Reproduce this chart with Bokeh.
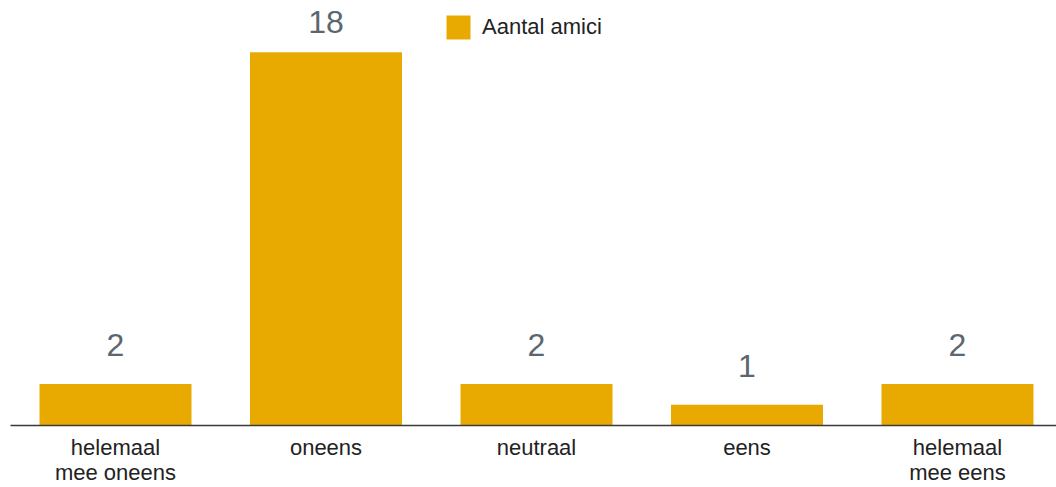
import numpy as np
from bokeh.plotting import figure
from bokeh.models import ColumnDataSource, Range1d, FixedTicker, Legend, LegendItem
from bokeh.core.properties import value
from bokeh.embed import file_html
from bokeh.resources import INLINE

categories = ["helemaal\nmee oneens", "oneens", "neutraal", "eens", "helemaal\nmee eens"]
counts = [2, 18, 2, 1, 2]
series_name = "Aantal amici"

BAR_COLOR = "#E8AA00"
VALUE_COLOR = "#5B6770"
TEXT_COLOR = "#222222"
FONT = "Liberation Sans"

W, H = 1056, 487
BORDER_LEFT, BORDER_BOTTOM = 10, 61
FRAME_H = H - BORDER_BOTTOM
Y_MAX = 20.5
PPU = FRAME_H / Y_MAX  # pixels per unit

xs = list(range(len(categories)))
# value label placement (pixel gaps converted to data units), capped below the frame top
label_y = [min(c + 39 / PPU, Y_MAX - 22 / PPU) for c in counts]
src = ColumnDataSource(dict(x=xs, count=counts, ly=label_y, label=[str(c) for c in counts]))

p = figure(width=W, height=H, output_backend="svg", toolbar_location=None,
           x_range=Range1d(-0.4988, 4.4703), y_range=Range1d(0, Y_MAX),
           min_border_left=BORDER_LEFT, min_border_right=0, min_border_top=0,
           min_border_bottom=BORDER_BOTTOM)
p.outline_line_color = None
p.grid.visible = False
p.yaxis.visible = False
p.background_fill_color = "white"
p.border_fill_color = "white"

r = p.vbar(x="x", top="count", width=0.722, bottom=0, source=src,
           fill_color=BAR_COLOR, line_color=None)

p.text(x="x", y="ly", text="label", source=src, text_align="center",
       text_baseline="alphabetic", text_font=value(FONT),
       text_font_size="32px", text_color=VALUE_COLOR)

ax = p.xaxis[0]
ax.ticker = FixedTicker(ticks=xs)
ax.major_label_overrides = {i: c for i, c in enumerate(categories)}
ax.major_tick_line_color = None
ax.major_tick_out = 0
ax.major_tick_in = 0
ax.minor_tick_line_color = None
ax.axis_line_color = "#3a3a3a"
ax.axis_line_width = 1.3
ax.major_label_text_font = FONT
ax.major_label_text_font_size = "22px"
ax.major_label_text_line_height = 1.0
ax.major_label_text_color = TEXT_COLOR
ax.major_label_standoff = 9

legend = Legend(items=[LegendItem(label=series_name, renderers=[r])],
                location=(433, 380), orientation="horizontal",
                glyph_width=30, glyph_height=30, label_standoff=9, label_height=36,
                padding=0, margin=0, border_line_color=None,
                background_fill_alpha=0, label_text_font=FONT,
                label_text_line_height=1.4,
                label_text_font_size="22px", label_text_color=TEXT_COLOR)
p.add_layout(legend)

open("out.html", "w").write(file_html(p, INLINE))
